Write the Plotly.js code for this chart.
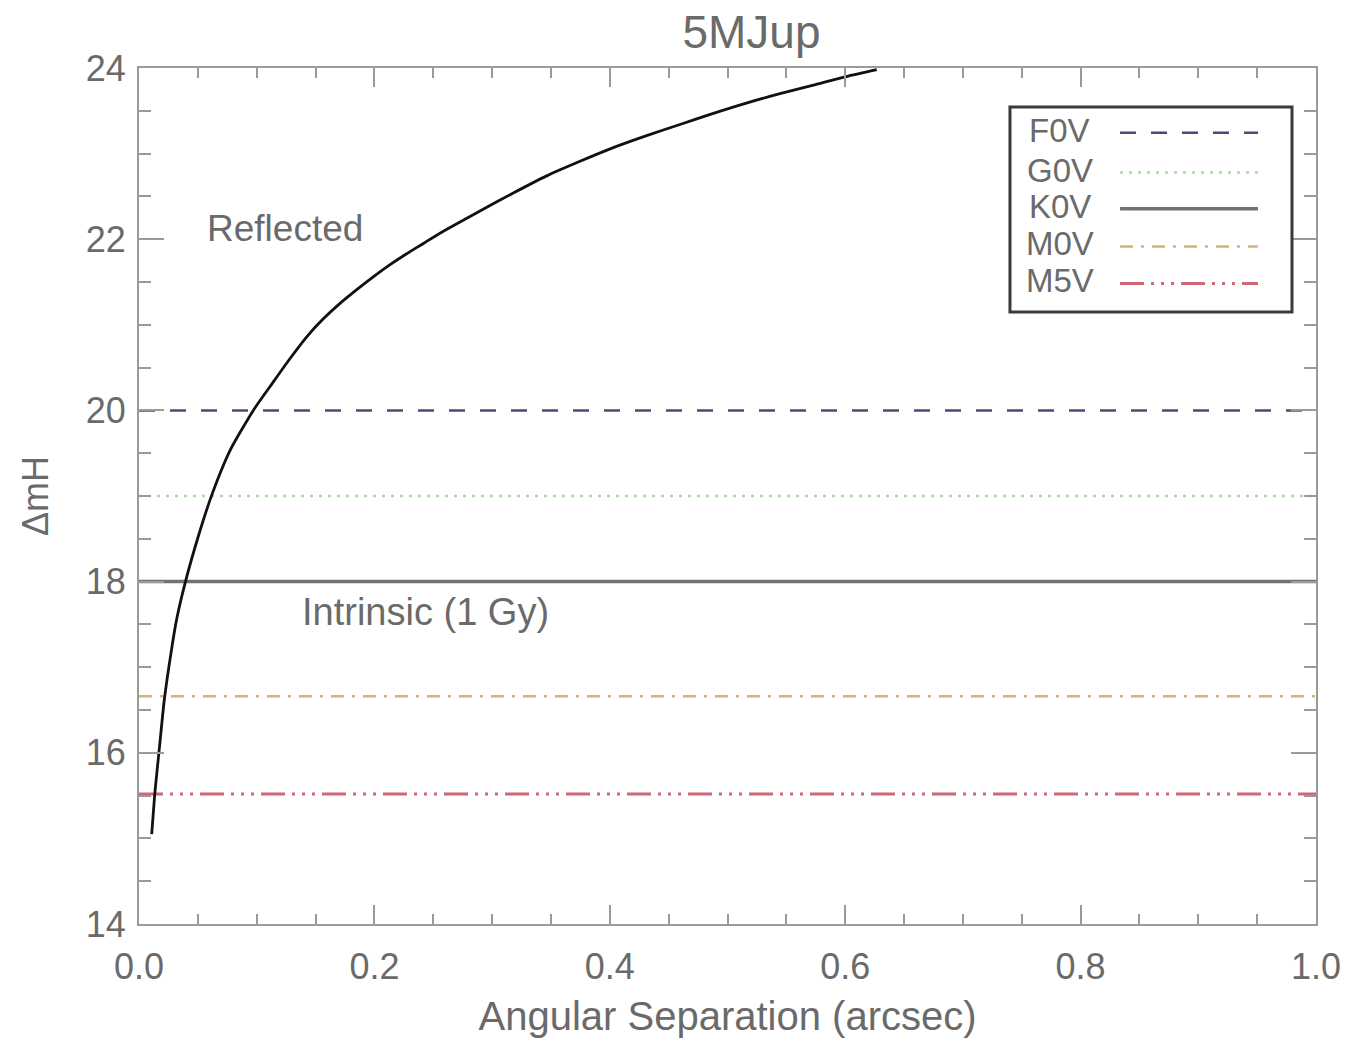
<!DOCTYPE html>
<html>
<head>
<meta charset="utf-8">
<script src="https://cdn.plot.ly/plotly-3.0.1.min.js"></script>
<style>html,body{margin:0;padding:0;background:#fff;}#chart{width:1354px;height:1044px;}</style>
</head>
<body>
<div id="chart"></div>
<script>
// Reflected-light contrast curve
const separation = [0.0108, 0.0136, 0.0175, 0.0215, 0.0278, 0.032, 0.0391, 0.0504, 0.0618, 0.0773,
  0.0971, 0.114, 0.128, 0.1425, 0.1566, 0.1708, 0.185, 0.199, 0.213, 0.2274,
  0.2416, 0.2557, 0.27, 0.2897, 0.318, 0.3464, 0.3747, 0.403, 0.4313, 0.4596,
  0.488, 0.516, 0.5446, 0.573, 0.601, 0.6268];
const reflectedDm = [15.05, 15.55, 16.08, 16.62, 17.22, 17.56, 17.98, 18.53, 19.01, 19.53,
  20.00, 20.33, 20.60, 20.86, 21.07, 21.25, 21.41, 21.56, 21.70, 21.83,
  21.95, 22.07, 22.18, 22.33, 22.54, 22.74, 22.91, 23.07, 23.21, 23.34,
  23.47, 23.59, 23.70, 23.80, 23.90, 23.98];

// Intrinsic (1 Gy) contrast per host star type
const starTypes = ["F0V", "G0V", "K0V", "M0V", "M5V"];
const intrinsicDm = [20.0, 19.0, 18.0, 16.66, 15.52];
const xSpan = [0.0, 1.0];

const xTickVals = [0.0, 0.2, 0.4, 0.6, 0.8, 1.0];
const xTickText = ["0.0", "0.2", "0.4", "0.6", "0.8", "1.0"];
const yTickVals = [14, 16, 18, 20, 22, 24];

const styles = [
  {color: "#4b4b78", width: 2.5, dash: "16px,15px"},
  {color: "#a8dca0", width: 2.5, dash: "3px,6px"},
  {color: "#727272", width: 3.5, dash: "solid"},
  {color: "#d2b47a", width: 2.5, dash: "13px,8px,3px,8px"},
  {color: "#d06878", width: 3, dash: "24px,7px,3px,7px,3px,7px,3px,7px"}
];

const textColor = "#6a6a6a";
const fontFam = "Liberation Sans, Arial, sans-serif";

const traces = [];
starTypes.forEach((name, i) => {
  traces.push({
    x: xSpan, y: [intrinsicDm[i], intrinsicDm[i]],
    type: "scatter", mode: "lines", name: name, showlegend: false,
    line: styles[i]
  });
});
traces.push({
  x: separation, y: reflectedDm, type: "scatter", mode: "lines",
  name: "Reflected", showlegend: false,
  line: {color: "#111111", width: 2.8, shape: "spline", smoothing: 0.6}
});

// manual legend (text left, line sample right) in paper coordinates
const shapes = [{
  type: "rect", xref: "paper", yref: "paper",
  x0: 0.740, x1: 0.9796, y0: 0.715, y1: 0.9544,
  line: {color: "#3a3a3a", width: 3}, fillcolor: "rgba(255,255,255,0)"
}];
const annotations = [
  {text: "Reflected", x: 0.124, y: 22.12, xref: "x", yref: "y", showarrow: false,
   font: {size: 37, color: textColor, family: fontFam}},
  {text: "Intrinsic (1 Gy)", x: 0.243, y: 17.64, xref: "x", yref: "y", showarrow: false,
   font: {size: 38, color: textColor, family: fontFam}}
];
const rowY = [0.9245, 0.8778, 0.8357, 0.7914, 0.7483];
starTypes.forEach((name, i) => {
  annotations.push({
    text: name, xref: "paper", yref: "paper", x: 0.7821, y: rowY[i] + 0.003,
    xanchor: "center", yanchor: "middle", showarrow: false,
    font: {size: 33, color: textColor, family: fontFam}
  });
  shapes.push({
    type: "line", xref: "paper", yref: "paper",
    x0: 0.8335, x1: 0.9507, y0: rowY[i], y1: rowY[i],
    line: styles[i]
  });
});

const axisCommon = {
  showline: true, linecolor: "#9a9a9a", linewidth: 2, mirror: "allticks",
  ticks: "inside", tickcolor: "#9a9a9a", tickwidth: 2,
  showgrid: false, zeroline: false,
  tickfont: {size: 36, color: textColor, family: fontFam}
};

const layout = {
  width: 1354, height: 1044,
  paper_bgcolor: "#ffffff", plot_bgcolor: "#ffffff",
  margin: {l: 139, r: 38, t: 68, b: 120},
  title: {text: "5MJup", x: 0.555, xref: "container", xanchor: "center",
          y: 0.969, yref: "container", yanchor: "middle",
          font: {size: 46, color: textColor, family: fontFam}},
  xaxis: Object.assign({}, axisCommon, {
    range: [0, 1], tickvals: xTickVals, ticktext: xTickText, ticklen: 19,
    ticklabelstandoff: 10,
    minor: {dtick: 0.05, ticks: "inside", ticklen: 10, tickcolor: "#9a9a9a", tickwidth: 2, showgrid: false},
    title: {text: "Angular Separation (arcsec)", standoff: 16,
            font: {size: 40, color: textColor, family: fontFam}}
  }),
  yaxis: Object.assign({}, axisCommon, {
    range: [14, 24], tickvals: yTickVals, ticklen: 25,
    ticklabelstandoff: 4,
    minor: {dtick: 0.5, ticks: "inside", ticklen: 12, tickcolor: "#9a9a9a", tickwidth: 2, showgrid: false},
    title: {text: "ΔmH", standoff: 26,
            font: {size: 36, color: textColor, family: fontFam}}
  }),
  shapes: shapes,
  annotations: annotations
};

Plotly.newPlot("chart", traces, layout, {displayModeBar: false, responsive: false});
</script>
</body>
</html>
